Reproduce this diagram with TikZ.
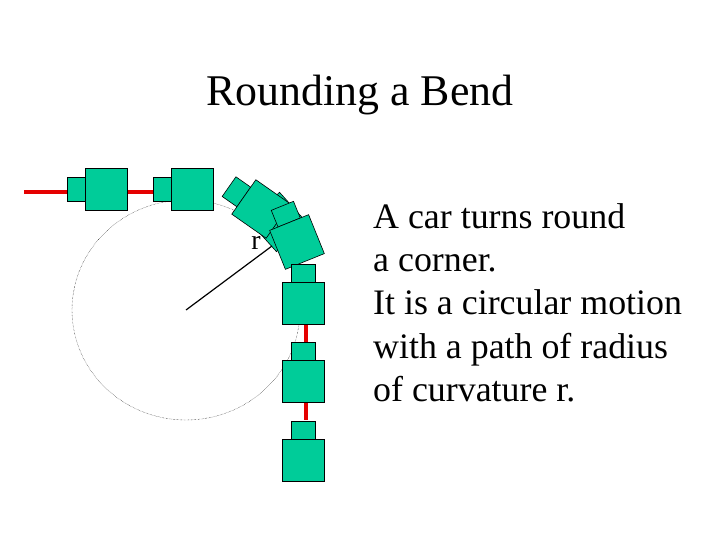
\documentclass[tikz,border=0pt]{standalone}
\usepackage{fontspec}
\setmainfont{Liberation Serif}
\begin{document}
\begin{tikzpicture}[x=1bp,y=-1bp]
\definecolor{carg}{RGB}{0,204,153}
\tikzset{carbody/.style={fill=carg,draw=black,line width=0.6bp},
  road/.style={red!90!black,line width=3.5bp}}
\useasboundingbox (0,0) rectangle (720,540);
\node[font=\fontsize{44}{48}\selectfont] (title) at (360,95) {Rounding a Bend};
% roads
\coordinate (r1) at (24,192);
\coordinate (r2) at (212,192);
\coordinate (r3) at (306,300);
\coordinate (r4) at (306,420);
\draw[road] (r1) -- (r2);
\draw[road] (r3) -- (r4);
% circle
\coordinate (c) at (186,310);
\draw[densely dotted,line width=0.4bp] (c) ellipse (114 and 110);
% cars: small part at -x in local frame
\newcommand{\mycar}[3]{%
  \begin{scope}[shift={(#1,#2)},rotate=#3]
    \draw[carbody] (-39,-12) rectangle (-21,12);
    \draw[carbody] (-21,-21) rectangle (21,21);
  \end{scope}}
\mycar{106}{189}{0}
\mycar{192}{189}{0}
\mycar{278}{222}{-48}
\mycar{261}{209}{-35}
\mycar{297}{242}{-68}
\mycar{303}{303}{-90}
\mycar{303}{381}{-90}
\mycar{303}{460}{-90}
% radius
\coordinate (re) at (272,246);
\draw[line width=1.2bp] (c) -- (re);
\node[font=\fontsize{28}{30}\selectfont] (r) at (256,243) {r};
\node[font=\fontsize{36}{43.5}\selectfont,anchor=north west,align=left,inner sep=0] (txt) at (373,203)
 {A car turns round\\a corner.\\It is a circular motion\\with a path of radius\\of curvature r.};
\end{tikzpicture}
\end{document}
